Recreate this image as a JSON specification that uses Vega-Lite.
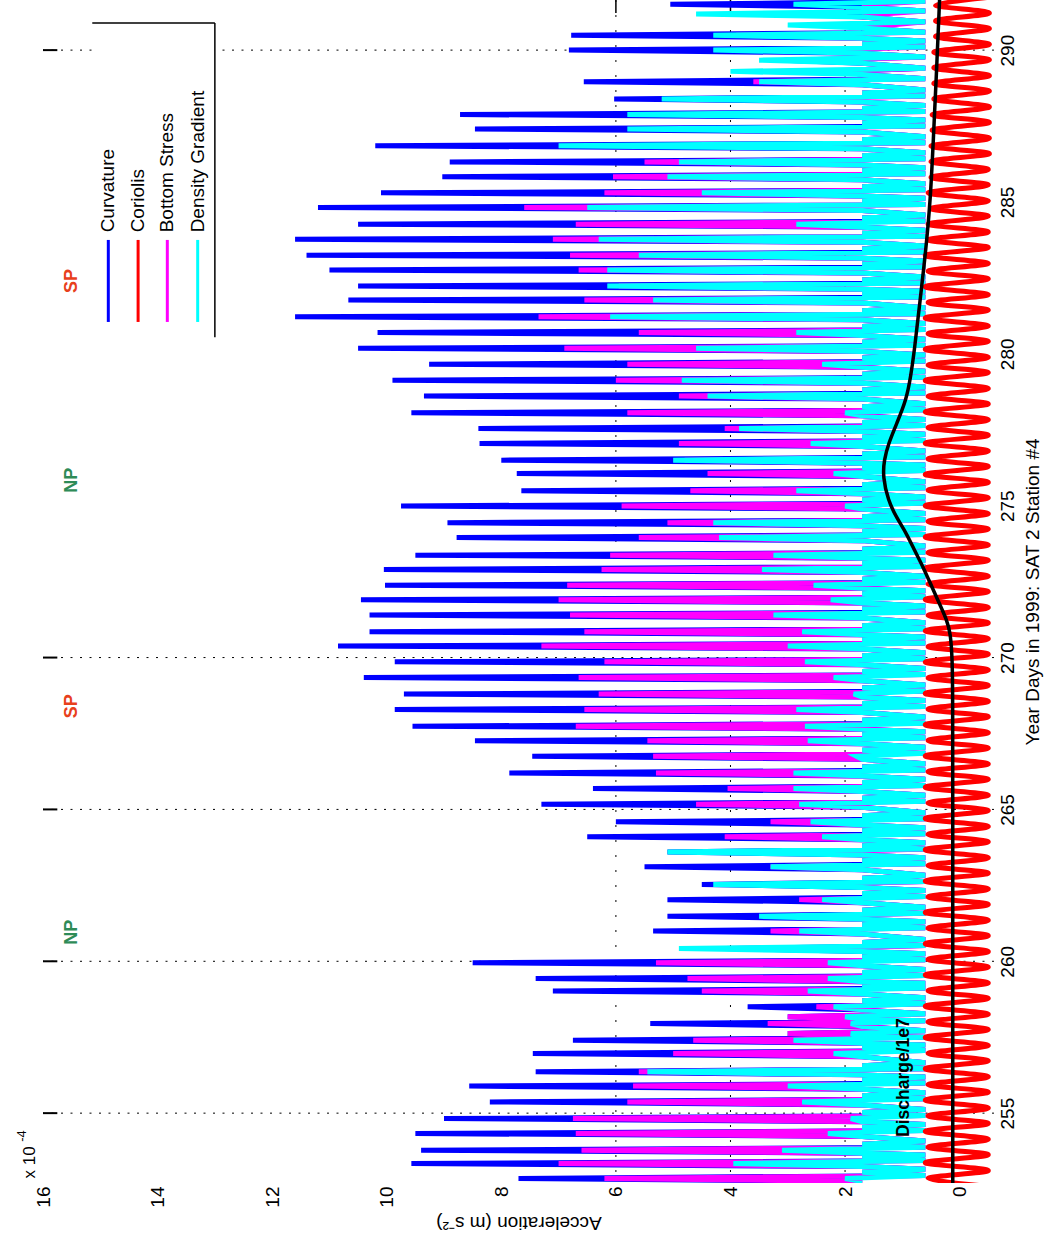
{
"$schema":"https://vega.github.io/schema/vega-lite/v6.json",
"width":951,"height":1183,
"autosize":"none",
"padding":{"left":43,"top":0,"right":51,"bottom":64},
"background":"white",
"config":{"view":{"stroke":null},"font":"Liberation Sans","axis":{"labelFont":"Liberation Sans","titleFont":"Liberation Sans","grid":false,"ticks":false,"domain":false}},
"datasets":{
"hg":[{"d":255},{"d":260},{"d":265},{"d":270},{"d":290}],
"vg":[{"v":2},{"v":4},{"v":6}],
"leg":[{"s":"Curvature","v":14.86},{"s":"Coriolis","v":14.34},{"s":"Bottom Stress","v":13.83},{"s":"Density Gradient","v":13.3}],
"ann":[{"s":"NP","d":260.96},{"s":"SP","d":268.4},{"s":"NP","d":275.84},{"s":"SP","d":282.4}],
"spk":[
{"d":252.75,"C":1.7,"B":1.7,"G":1.7},{"d":252.85,"C":7.7,"B":6.2,"G":2.0},{"d":252.95,"C":0.6,"B":0.6,"G":0.6},{"d":253.05,"C":1.7,"B":1.7,"G":1.7},{"d":253.15,"C":0.6,"B":0.6,"G":0.6},
{"d":253.24,"C":1.7,"B":1.7,"G":1.7},{"d":253.34,"C":9.57,"B":7.0,"G":3.95},{"d":253.44,"C":0.6,"B":0.6,"G":0.6},{"d":253.54,"C":1.7,"B":1.7,"G":1.7},{"d":253.62,"C":0.6,"B":0.6,"G":0.6},
{"d":253.68,"C":1.7,"B":1.7,"G":1.7},{"d":253.78,"C":9.4,"B":6.6,"G":3.1},{"d":253.88,"C":0.6,"B":0.6,"G":0.6},{"d":253.98,"C":1.7,"B":1.7,"G":1.7},{"d":254.08,"C":0.6,"B":0.6,"G":0.6},
{"d":254.23,"C":1.7,"B":1.7,"G":1.7},{"d":254.33,"C":9.5,"B":6.7,"G":2.3},{"d":254.43,"C":0.6,"B":0.6,"G":0.6},{"d":254.53,"C":1.7,"B":1.7,"G":1.7},{"d":254.63,"C":0.6,"B":0.6,"G":0.6},
{"d":254.72,"C":1.7,"B":1.7,"G":1.7},{"d":254.82,"C":9.0,"B":6.75,"G":1.9},{"d":254.92,"C":0.6,"B":0.6,"G":0.6},{"d":255.02,"C":1.7,"B":1.7,"G":1.7},{"d":255.12,"C":0.6,"B":0.6,"G":0.6},
{"d":255.27,"C":1.7,"B":1.7,"G":1.7},{"d":255.37,"C":8.2,"B":5.8,"G":2.75},{"d":255.47,"C":0.6,"B":0.6,"G":0.6},{"d":255.57,"C":1.7,"B":1.7,"G":1.7},{"d":255.67,"C":0.6,"B":0.6,"G":0.6},
{"d":255.79,"C":1.7,"B":1.7,"G":1.7},{"d":255.89,"C":8.56,"B":5.7,"G":3.0},{"d":255.99,"C":0.6,"B":0.6,"G":0.6},{"d":256.09,"C":1.7,"B":1.7,"G":1.7},{"d":256.19,"C":0.6,"B":0.6,"G":0.6},
{"d":256.26,"C":1.7,"B":1.7,"G":1.7},{"d":256.36,"C":7.4,"B":5.6,"G":5.45},{"d":256.46,"C":0.6,"B":0.6,"G":0.6},{"d":256.56,"C":1.7,"B":1.7,"G":1.7},{"d":256.66,"C":0.6,"B":0.6,"G":0.6},
{"d":256.86,"C":1.7,"B":1.7,"G":1.7},{"d":256.96,"C":7.45,"B":5.0,"G":2.2},{"d":257.06,"C":0.6,"B":0.6,"G":0.6},{"d":257.16,"C":1.7,"B":1.7,"G":1.7},{"d":257.24,"C":0.6,"B":0.6,"G":0.6},
{"d":257.30,"C":1.7,"B":1.7,"G":1.7},{"d":257.40,"C":6.75,"B":4.65,"G":2.9},{"d":257.50,"C":0.6,"B":0.6,"G":0.6},
{"d":257.53,"C":1.7,"B":1.7,"G":1.7},{"d":257.62,"C":3.0,"B":3.0,"G":1.9},{"d":257.71,"C":0.6,"B":0.6,"G":0.6},
{"d":257.85,"C":1.7,"B":1.7,"G":1.7},{"d":257.95,"C":5.4,"B":3.35,"G":1.9},{"d":258.04,"C":0.6,"B":0.6,"G":0.6},
{"d":258.08,"C":1.7,"B":1.7,"G":1.7},{"d":258.17,"C":3.0,"B":3.0,"G":2.0},{"d":258.27,"C":0.6,"B":0.6,"G":0.6},
{"d":258.40,"C":1.7,"B":1.7,"G":1.7},{"d":258.50,"C":3.7,"B":2.5,"G":2.2},{"d":258.60,"C":0.6,"B":0.6,"G":0.6},{"d":258.70,"C":1.7,"B":1.7,"G":1.7},{"d":258.80,"C":0.6,"B":0.6,"G":0.6},
{"d":258.92,"C":1.7,"B":1.7,"G":1.7},{"d":259.02,"C":7.1,"B":4.5,"G":2.65},{"d":259.12,"C":0.6,"B":0.6,"G":0.6},{"d":259.21,"C":1.7,"B":1.7,"G":1.7},{"d":259.28,"C":0.6,"B":0.6,"G":0.6},
{"d":259.33,"C":1.7,"B":1.7,"G":1.7},{"d":259.43,"C":7.4,"B":4.75,"G":2.3},{"d":259.53,"C":0.6,"B":0.6,"G":0.6},{"d":259.63,"C":1.7,"B":1.7,"G":1.7},{"d":259.73,"C":0.6,"B":0.6,"G":0.6},
{"d":259.85,"C":1.7,"B":1.7,"G":1.7},{"d":259.95,"C":8.5,"B":5.3,"G":2.3},{"d":260.05,"C":0.6,"B":0.6,"G":0.6},{"d":260.15,"C":1.7,"B":1.7,"G":1.7},{"d":260.25,"C":0.6,"B":0.6,"G":0.6},
{"d":260.32,"C":1.7,"B":1.7,"G":1.7},{"d":260.42,"C":4.1,"B":2.2,"G":4.9},{"d":260.52,"C":0.6,"B":0.6,"G":0.6},{"d":260.62,"C":1.7,"B":1.7,"G":1.7},{"d":260.72,"C":0.6,"B":0.6,"G":0.6},
{"d":260.90,"C":1.7,"B":1.7,"G":1.7},{"d":261.00,"C":5.35,"B":3.3,"G":2.8},{"d":261.10,"C":0.6,"B":0.6,"G":0.6},{"d":261.20,"C":1.7,"B":1.7,"G":1.7},{"d":261.30,"C":0.6,"B":0.6,"G":0.6},
{"d":261.38,"C":1.7,"B":1.7,"G":1.7},{"d":261.48,"C":5.1,"B":2.85,"G":3.5},{"d":261.58,"C":0.6,"B":0.6,"G":0.6},{"d":261.68,"C":1.7,"B":1.7,"G":1.7},{"d":261.78,"C":0.6,"B":0.6,"G":0.6},
{"d":261.93,"C":1.7,"B":1.7,"G":1.7},{"d":262.03,"C":5.1,"B":2.8,"G":2.4},{"d":262.13,"C":0.6,"B":0.6,"G":0.6},{"d":262.23,"C":1.7,"B":1.7,"G":1.7},{"d":262.33,"C":0.6,"B":0.6,"G":0.6},
{"d":262.43,"C":1.7,"B":1.7,"G":1.7},{"d":262.53,"C":4.5,"B":2.5,"G":4.3},{"d":262.63,"C":0.6,"B":0.6,"G":0.6},{"d":262.73,"C":1.7,"B":1.7,"G":1.7},{"d":262.83,"C":0.6,"B":0.6,"G":0.6},
{"d":263.01,"C":1.7,"B":1.7,"G":1.7},{"d":263.11,"C":5.5,"B":3.3,"G":3.3},{"d":263.21,"C":0.6,"B":0.6,"G":0.6},{"d":263.31,"C":1.7,"B":1.7,"G":1.7},{"d":263.41,"C":0.6,"B":0.6,"G":0.6},
{"d":263.50,"C":1.7,"B":1.7,"G":1.7},{"d":263.60,"C":5.1,"B":2.4,"G":5.1},{"d":263.70,"C":0.6,"B":0.6,"G":0.6},{"d":263.80,"C":1.7,"B":1.7,"G":1.7},{"d":263.90,"C":0.6,"B":0.6,"G":0.6},
{"d":264.00,"C":1.7,"B":1.7,"G":1.7},{"d":264.10,"C":6.5,"B":4.1,"G":2.4},{"d":264.20,"C":0.6,"B":0.6,"G":0.6},{"d":264.30,"C":1.7,"B":1.7,"G":1.7},{"d":264.40,"C":0.6,"B":0.6,"G":0.6},
{"d":264.49,"C":1.7,"B":1.7,"G":1.7},{"d":264.59,"C":6.0,"B":3.3,"G":2.6},{"d":264.69,"C":0.6,"B":0.6,"G":0.6},{"d":264.79,"C":1.7,"B":1.7,"G":1.7},{"d":264.89,"C":0.6,"B":0.6,"G":0.6},
{"d":265.07,"C":1.7,"B":1.7,"G":1.7},{"d":265.17,"C":7.3,"B":4.6,"G":2.8},{"d":265.27,"C":0.6,"B":0.6,"G":0.6},{"d":265.37,"C":1.7,"B":1.7,"G":1.7},{"d":265.47,"C":0.6,"B":0.6,"G":0.6},
{"d":265.59,"C":1.7,"B":1.7,"G":1.7},{"d":265.69,"C":6.4,"B":4.05,"G":2.9},{"d":265.79,"C":0.6,"B":0.6,"G":0.6},{"d":265.89,"C":1.7,"B":1.7,"G":1.7},{"d":265.99,"C":0.6,"B":0.6,"G":0.6},
{"d":266.10,"C":1.7,"B":1.7,"G":1.7},{"d":266.20,"C":7.86,"B":5.3,"G":2.9},{"d":266.30,"C":0.6,"B":0.6,"G":0.6},{"d":266.40,"C":1.7,"B":1.7,"G":1.7},{"d":266.50,"C":0.6,"B":0.6,"G":0.6},
{"d":266.65,"C":1.7,"B":1.7,"G":1.7},{"d":266.75,"C":7.46,"B":5.35,"G":1.8},{"d":266.85,"C":0.6,"B":0.6,"G":0.6},{"d":266.95,"C":1.7,"B":1.7,"G":1.7},{"d":267.05,"C":0.6,"B":0.6,"G":0.6},
{"d":267.16,"C":1.7,"B":1.7,"G":1.7},{"d":267.26,"C":8.46,"B":5.45,"G":2.65},{"d":267.36,"C":0.6,"B":0.6,"G":0.6},{"d":267.46,"C":1.7,"B":1.7,"G":1.7},{"d":267.56,"C":0.6,"B":0.6,"G":0.6},
{"d":267.64,"C":1.7,"B":1.7,"G":1.7},{"d":267.74,"C":9.55,"B":6.7,"G":2.7},{"d":267.84,"C":0.6,"B":0.6,"G":0.6},{"d":267.94,"C":1.7,"B":1.7,"G":1.7},{"d":268.04,"C":0.6,"B":0.6,"G":0.6},
{"d":268.19,"C":1.7,"B":1.7,"G":1.7},{"d":268.29,"C":9.86,"B":6.55,"G":2.85},{"d":268.39,"C":0.6,"B":0.6,"G":0.6},{"d":268.49,"C":1.7,"B":1.7,"G":1.7},{"d":268.59,"C":0.6,"B":0.6,"G":0.6},
{"d":268.70,"C":1.7,"B":1.7,"G":1.7},{"d":268.80,"C":9.7,"B":6.3,"G":1.85},{"d":268.90,"C":0.6,"B":0.6,"G":0.6},{"d":269.00,"C":1.7,"B":1.7,"G":1.7},{"d":269.10,"C":0.6,"B":0.6,"G":0.6},
{"d":269.24,"C":1.7,"B":1.7,"G":1.7},{"d":269.34,"C":10.4,"B":6.65,"G":2.2},{"d":269.44,"C":0.6,"B":0.6,"G":0.6},{"d":269.54,"C":1.7,"B":1.7,"G":1.7},{"d":269.64,"C":0.6,"B":0.6,"G":0.6},
{"d":269.76,"C":1.7,"B":1.7,"G":1.7},{"d":269.86,"C":9.86,"B":6.2,"G":2.7},{"d":269.96,"C":0.6,"B":0.6,"G":0.6},{"d":270.06,"C":1.7,"B":1.7,"G":1.7},{"d":270.16,"C":0.6,"B":0.6,"G":0.6},
{"d":270.28,"C":1.7,"B":1.7,"G":1.7},{"d":270.38,"C":10.85,"B":7.3,"G":3.0},{"d":270.48,"C":0.6,"B":0.6,"G":0.6},{"d":270.58,"C":1.7,"B":1.7,"G":1.7},{"d":270.68,"C":0.6,"B":0.6,"G":0.6},
{"d":270.75,"C":1.7,"B":1.7,"G":1.7},{"d":270.85,"C":10.3,"B":6.55,"G":2.75},{"d":270.95,"C":0.6,"B":0.6,"G":0.6},{"d":271.05,"C":1.7,"B":1.7,"G":1.7},{"d":271.15,"C":0.6,"B":0.6,"G":0.6},
{"d":271.30,"C":1.7,"B":1.7,"G":1.7},{"d":271.40,"C":10.3,"B":6.8,"G":3.25},{"d":271.50,"C":0.6,"B":0.6,"G":0.6},{"d":271.60,"C":1.7,"B":1.7,"G":1.7},{"d":271.70,"C":0.6,"B":0.6,"G":0.6},
{"d":271.80,"C":1.7,"B":1.7,"G":1.7},{"d":271.90,"C":10.45,"B":7.0,"G":2.25},{"d":272.00,"C":0.6,"B":0.6,"G":0.6},{"d":272.10,"C":1.7,"B":1.7,"G":1.7},{"d":272.20,"C":0.6,"B":0.6,"G":0.6},
{"d":272.28,"C":1.7,"B":1.7,"G":1.7},{"d":272.38,"C":10.03,"B":6.85,"G":2.55},{"d":272.48,"C":0.6,"B":0.6,"G":0.6},{"d":272.58,"C":1.7,"B":1.7,"G":1.7},{"d":272.68,"C":0.6,"B":0.6,"G":0.6},
{"d":272.80,"C":1.7,"B":1.7,"G":1.7},{"d":272.90,"C":10.05,"B":6.25,"G":3.45},{"d":273.00,"C":0.6,"B":0.6,"G":0.6},{"d":273.10,"C":1.7,"B":1.7,"G":1.7},{"d":273.20,"C":0.6,"B":0.6,"G":0.6},
{"d":273.27,"C":1.7,"B":1.7,"G":1.7},{"d":273.37,"C":9.5,"B":6.1,"G":3.25},{"d":273.47,"C":0.6,"B":0.6,"G":0.6},{"d":273.57,"C":1.7,"B":1.7,"G":1.7},{"d":273.67,"C":0.6,"B":0.6,"G":0.6},
{"d":273.85,"C":1.7,"B":1.7,"G":1.7},{"d":273.95,"C":8.78,"B":5.6,"G":4.2},{"d":274.05,"C":0.6,"B":0.6,"G":0.6},{"d":274.15,"C":1.7,"B":1.7,"G":1.7},{"d":274.25,"C":0.6,"B":0.6,"G":0.6},
{"d":274.34,"C":1.7,"B":1.7,"G":1.7},{"d":274.44,"C":8.94,"B":5.1,"G":4.3},{"d":274.54,"C":0.6,"B":0.6,"G":0.6},{"d":274.64,"C":1.7,"B":1.7,"G":1.7},{"d":274.74,"C":0.6,"B":0.6,"G":0.6},
{"d":274.89,"C":1.7,"B":1.7,"G":1.7},{"d":274.99,"C":9.75,"B":5.9,"G":2.0},{"d":275.09,"C":0.6,"B":0.6,"G":0.6},{"d":275.19,"C":1.7,"B":1.7,"G":1.7},{"d":275.29,"C":0.6,"B":0.6,"G":0.6},
{"d":275.39,"C":1.7,"B":1.7,"G":1.7},{"d":275.49,"C":7.65,"B":4.7,"G":2.85},{"d":275.59,"C":0.6,"B":0.6,"G":0.6},{"d":275.69,"C":1.7,"B":1.7,"G":1.7},{"d":275.79,"C":0.6,"B":0.6,"G":0.6},
{"d":275.96,"C":1.7,"B":1.7,"G":1.7},{"d":276.06,"C":7.73,"B":4.4,"G":2.2},{"d":276.16,"C":0.6,"B":0.6,"G":0.6},{"d":276.26,"C":1.7,"B":1.7,"G":1.7},{"d":276.34,"C":0.6,"B":0.6,"G":0.6},
{"d":276.40,"C":1.7,"B":1.7,"G":1.7},{"d":276.50,"C":8.0,"B":4.8,"G":5.0},{"d":276.60,"C":0.6,"B":0.6,"G":0.6},{"d":276.70,"C":1.7,"B":1.7,"G":1.7},{"d":276.80,"C":0.6,"B":0.6,"G":0.6},
{"d":276.95,"C":1.7,"B":1.7,"G":1.7},{"d":277.05,"C":8.38,"B":4.9,"G":2.6},{"d":277.15,"C":0.6,"B":0.6,"G":0.6},{"d":277.25,"C":1.7,"B":1.7,"G":1.7},{"d":277.35,"C":0.6,"B":0.6,"G":0.6},
{"d":277.44,"C":1.7,"B":1.7,"G":1.7},{"d":277.54,"C":8.4,"B":4.1,"G":3.85},{"d":277.64,"C":0.6,"B":0.6,"G":0.6},{"d":277.74,"C":1.7,"B":1.7,"G":1.7},{"d":277.84,"C":0.6,"B":0.6,"G":0.6},
{"d":277.96,"C":1.7,"B":1.7,"G":1.7},{"d":278.06,"C":9.57,"B":5.8,"G":2.0},{"d":278.16,"C":0.6,"B":0.6,"G":0.6},{"d":278.26,"C":1.7,"B":1.7,"G":1.7},{"d":278.36,"C":0.6,"B":0.6,"G":0.6},
{"d":278.51,"C":1.7,"B":1.7,"G":1.7},{"d":278.61,"C":9.35,"B":4.9,"G":4.4},{"d":278.71,"C":0.6,"B":0.6,"G":0.6},{"d":278.81,"C":1.7,"B":1.7,"G":1.7},{"d":278.91,"C":0.6,"B":0.6,"G":0.6},
{"d":279.03,"C":1.7,"B":1.7,"G":1.7},{"d":279.13,"C":9.9,"B":6.0,"G":4.85},{"d":279.23,"C":0.6,"B":0.6,"G":0.6},{"d":279.33,"C":1.7,"B":1.7,"G":1.7},{"d":279.43,"C":0.6,"B":0.6,"G":0.6},
{"d":279.56,"C":1.7,"B":1.7,"G":1.7},{"d":279.66,"C":9.26,"B":5.8,"G":2.4},{"d":279.76,"C":0.6,"B":0.6,"G":0.6},{"d":279.86,"C":1.7,"B":1.7,"G":1.7},{"d":279.96,"C":0.6,"B":0.6,"G":0.6},
{"d":280.08,"C":1.7,"B":1.7,"G":1.7},{"d":280.18,"C":10.5,"B":6.9,"G":4.6},{"d":280.28,"C":0.6,"B":0.6,"G":0.6},{"d":280.38,"C":1.7,"B":1.7,"G":1.7},{"d":280.48,"C":0.6,"B":0.6,"G":0.6},
{"d":280.60,"C":1.7,"B":1.7,"G":1.7},{"d":280.70,"C":10.16,"B":5.6,"G":2.85},{"d":280.80,"C":0.6,"B":0.6,"G":0.6},{"d":280.90,"C":1.7,"B":1.7,"G":1.7},{"d":281.00,"C":0.6,"B":0.6,"G":0.6},
{"d":281.12,"C":1.7,"B":1.7,"G":1.7},{"d":281.22,"C":11.6,"B":7.35,"G":6.1},{"d":281.32,"C":0.6,"B":0.6,"G":0.6},{"d":281.42,"C":1.7,"B":1.7,"G":1.7},{"d":281.52,"C":0.6,"B":0.6,"G":0.6},
{"d":281.67,"C":1.7,"B":1.7,"G":1.7},{"d":281.77,"C":10.67,"B":6.55,"G":5.35},{"d":281.87,"C":0.6,"B":0.6,"G":0.6},{"d":281.97,"C":1.7,"B":1.7,"G":1.7},{"d":282.06,"C":0.6,"B":0.6,"G":0.6},
{"d":282.13,"C":1.7,"B":1.7,"G":1.7},{"d":282.23,"C":10.5,"B":5.95,"G":6.15},{"d":282.33,"C":0.6,"B":0.6,"G":0.6},{"d":282.43,"C":1.7,"B":1.7,"G":1.7},{"d":282.53,"C":0.6,"B":0.6,"G":0.6},
{"d":282.66,"C":1.7,"B":1.7,"G":1.7},{"d":282.76,"C":11.0,"B":6.65,"G":6.15},{"d":282.86,"C":0.6,"B":0.6,"G":0.6},{"d":282.96,"C":1.7,"B":1.7,"G":1.7},{"d":283.06,"C":0.6,"B":0.6,"G":0.6},
{"d":283.15,"C":1.7,"B":1.7,"G":1.7},{"d":283.25,"C":11.4,"B":6.8,"G":5.6},{"d":283.35,"C":0.6,"B":0.6,"G":0.6},{"d":283.45,"C":1.7,"B":1.7,"G":1.7},{"d":283.55,"C":0.6,"B":0.6,"G":0.6},
{"d":283.67,"C":1.7,"B":1.7,"G":1.7},{"d":283.77,"C":11.6,"B":7.1,"G":6.3},{"d":283.87,"C":0.6,"B":0.6,"G":0.6},{"d":283.97,"C":1.7,"B":1.7,"G":1.7},{"d":284.07,"C":0.6,"B":0.6,"G":0.6},
{"d":284.17,"C":1.7,"B":1.7,"G":1.7},{"d":284.27,"C":10.5,"B":6.7,"G":2.85},{"d":284.37,"C":0.6,"B":0.6,"G":0.6},{"d":284.47,"C":1.7,"B":1.7,"G":1.7},{"d":284.57,"C":0.6,"B":0.6,"G":0.6},
{"d":284.72,"C":1.7,"B":1.7,"G":1.7},{"d":284.82,"C":11.2,"B":7.6,"G":6.5},{"d":284.92,"C":0.6,"B":0.6,"G":0.6},{"d":285.02,"C":1.7,"B":1.7,"G":1.7},{"d":285.12,"C":0.6,"B":0.6,"G":0.6},
{"d":285.20,"C":1.7,"B":1.7,"G":1.7},{"d":285.30,"C":10.1,"B":6.2,"G":4.5},{"d":285.40,"C":0.6,"B":0.6,"G":0.6},{"d":285.50,"C":1.7,"B":1.7,"G":1.7},{"d":285.60,"C":0.6,"B":0.6,"G":0.6},
{"d":285.73,"C":1.7,"B":1.7,"G":1.7},{"d":285.83,"C":9.03,"B":6.05,"G":5.1},{"d":285.93,"C":0.6,"B":0.6,"G":0.6},{"d":286.03,"C":1.7,"B":1.7,"G":1.7},{"d":286.13,"C":0.6,"B":0.6,"G":0.6},
{"d":286.22,"C":1.7,"B":1.7,"G":1.7},{"d":286.32,"C":8.9,"B":5.5,"G":4.9},{"d":286.42,"C":0.6,"B":0.6,"G":0.6},{"d":286.52,"C":1.7,"B":1.7,"G":1.7},{"d":286.62,"C":0.6,"B":0.6,"G":0.6},
{"d":286.75,"C":1.7,"B":1.7,"G":1.7},{"d":286.85,"C":10.2,"B":4.5,"G":7.0},{"d":286.95,"C":0.6,"B":0.6,"G":0.6},{"d":287.05,"C":1.7,"B":1.7,"G":1.7},{"d":287.15,"C":0.6,"B":0.6,"G":0.6},
{"d":287.30,"C":1.7,"B":1.7,"G":1.7},{"d":287.40,"C":8.46,"B":4.2,"G":5.8},{"d":287.50,"C":0.6,"B":0.6,"G":0.6},{"d":287.60,"C":1.7,"B":1.7,"G":1.7},{"d":287.70,"C":0.6,"B":0.6,"G":0.6},
{"d":287.78,"C":1.7,"B":1.7,"G":1.7},{"d":287.88,"C":8.72,"B":5.0,"G":5.8},{"d":287.98,"C":0.6,"B":0.6,"G":0.6},{"d":288.08,"C":1.7,"B":1.7,"G":1.7},{"d":288.18,"C":0.6,"B":0.6,"G":0.6},
{"d":288.29,"C":1.7,"B":1.7,"G":1.7},{"d":288.39,"C":6.03,"B":3.0,"G":5.2},{"d":288.49,"C":0.6,"B":0.6,"G":0.6},{"d":288.59,"C":1.7,"B":1.7,"G":1.7},{"d":288.69,"C":0.6,"B":0.6,"G":0.6},
{"d":288.86,"C":1.7,"B":1.7,"G":1.7},{"d":288.96,"C":6.56,"B":3.6,"G":3.5},{"d":289.06,"C":0.6,"B":0.6,"G":0.6},
{"d":289.20,"C":1.7,"B":1.7,"G":1.7},{"d":289.30,"C":2.0,"B":2.0,"G":4.0},{"d":289.40,"C":0.6,"B":0.6,"G":0.6},
{"d":289.57,"C":1.7,"B":1.7,"G":1.7},{"d":289.67,"C":3.06,"B":2.2,"G":3.5},{"d":289.77,"C":0.6,"B":0.6,"G":0.6},
{"d":289.90,"C":1.7,"B":1.7,"G":1.7},{"d":290.00,"C":6.82,"B":2.2,"G":4.3},{"d":290.10,"C":0.6,"B":0.6,"G":0.6},{"d":290.20,"C":1.7,"B":1.7,"G":1.7},{"d":290.30,"C":0.6,"B":0.6,"G":0.6},
{"d":290.39,"C":1.7,"B":1.7,"G":1.7},{"d":290.49,"C":6.78,"B":3.9,"G":4.3},{"d":290.59,"C":0.6,"B":0.6,"G":0.6},
{"d":290.73,"C":1.7,"B":1.7,"G":1.7},{"d":290.83,"C":1.8,"B":1.2,"G":3.0},{"d":290.93,"C":0.6,"B":0.6,"G":0.6},
{"d":291.09,"C":1.7,"B":1.7,"G":1.7},{"d":291.19,"C":2.8,"B":1.35,"G":4.6},{"d":291.29,"C":0.6,"B":0.6,"G":0.6},
{"d":291.41,"C":1.7,"B":1.7,"G":1.7},{"d":291.51,"C":5.05,"B":1.5,"G":2.9},{"d":291.61,"C":0.6,"B":0.6,"G":0.6}
],
"cor":[
{"d":252.59,"v":-0.5},{"d":252.85,"v":0.55},{"d":253.11,"v":-0.5},{"d":253.37,"v":0.6},{"d":253.63,"v":-0.5},{"d":253.88,"v":0.55},{"d":254.14,"v":-0.5},{"d":254.40,"v":0.6},{"d":254.66,"v":-0.5},{"d":254.91,"v":0.55},
{"d":255.17,"v":-0.5},{"d":255.43,"v":0.6},{"d":255.69,"v":-0.5},{"d":255.94,"v":0.55},{"d":256.20,"v":-0.5},{"d":256.46,"v":0.6},{"d":256.72,"v":-0.5},{"d":256.97,"v":0.55},{"d":257.23,"v":-0.5},{"d":257.49,"v":0.6},
{"d":257.75,"v":-0.5},{"d":258.00,"v":0.55},{"d":258.26,"v":-0.5},{"d":258.52,"v":0.6},{"d":258.78,"v":-0.5},{"d":259.03,"v":0.55},{"d":259.29,"v":-0.5},{"d":259.55,"v":0.6},{"d":259.81,"v":-0.5},{"d":260.06,"v":0.55},
{"d":260.32,"v":-0.5},{"d":260.58,"v":0.6},{"d":260.84,"v":-0.5},{"d":261.09,"v":0.55},{"d":261.35,"v":-0.5},{"d":261.61,"v":0.6},{"d":261.87,"v":-0.5},{"d":262.12,"v":0.55},{"d":262.38,"v":-0.5},{"d":262.64,"v":0.6},
{"d":262.90,"v":-0.5},{"d":263.15,"v":0.55},{"d":263.41,"v":-0.5},{"d":263.67,"v":0.6},{"d":263.93,"v":-0.5},{"d":264.18,"v":0.55},{"d":264.44,"v":-0.5},{"d":264.70,"v":0.6},{"d":264.96,"v":-0.5},{"d":265.21,"v":0.55},
{"d":265.47,"v":-0.5},{"d":265.73,"v":0.6},{"d":265.99,"v":-0.5},{"d":266.24,"v":0.55},{"d":266.50,"v":-0.5},{"d":266.76,"v":0.6},{"d":267.02,"v":-0.5},{"d":267.27,"v":0.55},{"d":267.53,"v":-0.5},{"d":267.79,"v":0.6},
{"d":268.05,"v":-0.5},{"d":268.30,"v":0.55},{"d":268.56,"v":-0.5},{"d":268.82,"v":0.6},{"d":269.08,"v":-0.5},{"d":269.33,"v":0.55},{"d":269.59,"v":-0.5},{"d":269.85,"v":0.6},{"d":270.11,"v":-0.5},{"d":270.36,"v":0.55},
{"d":270.62,"v":-0.5},{"d":270.88,"v":0.6},{"d":271.14,"v":-0.5},{"d":271.39,"v":0.55},{"d":271.65,"v":-0.5},{"d":271.91,"v":0.6},{"d":272.17,"v":-0.5},{"d":272.42,"v":0.55},{"d":272.68,"v":-0.5},{"d":272.94,"v":0.6},
{"d":273.20,"v":-0.5},{"d":273.45,"v":0.55},{"d":273.71,"v":-0.5},{"d":273.97,"v":0.6},{"d":274.23,"v":-0.5},{"d":274.48,"v":0.55},{"d":274.74,"v":-0.5},{"d":275.00,"v":0.6},{"d":275.26,"v":-0.5},{"d":275.51,"v":0.55},
{"d":275.77,"v":-0.5},{"d":276.03,"v":0.6},{"d":276.29,"v":-0.5},{"d":276.54,"v":0.55},{"d":276.80,"v":-0.5},{"d":277.06,"v":0.6},{"d":277.32,"v":-0.5},{"d":277.57,"v":0.55},{"d":277.83,"v":-0.5},{"d":278.09,"v":0.6},
{"d":278.35,"v":-0.5},{"d":278.60,"v":0.55},{"d":278.86,"v":-0.5},{"d":279.12,"v":0.6},{"d":279.38,"v":-0.5},{"d":279.63,"v":0.55},{"d":279.89,"v":-0.5},{"d":280.15,"v":0.6},{"d":280.41,"v":-0.5},{"d":280.66,"v":0.55},
{"d":280.92,"v":-0.5},{"d":281.18,"v":0.6},{"d":281.44,"v":-0.5},{"d":281.69,"v":0.55},{"d":281.95,"v":-0.5},{"d":282.21,"v":0.6},{"d":282.47,"v":-0.5},{"d":282.72,"v":0.55},{"d":282.98,"v":-0.5},{"d":283.24,"v":0.6},
{"d":283.50,"v":-0.5},{"d":283.75,"v":0.55},{"d":284.01,"v":-0.5},{"d":284.27,"v":0.55},{"d":284.53,"v":-0.5},{"d":284.78,"v":0.5},{"d":285.04,"v":-0.5},{"d":285.30,"v":0.55},{"d":285.56,"v":-0.5},{"d":285.81,"v":0.5},
{"d":286.07,"v":-0.5},{"d":286.33,"v":0.5},{"d":286.59,"v":-0.52},{"d":286.84,"v":0.5},{"d":287.10,"v":-0.52},{"d":287.36,"v":0.48},{"d":287.62,"v":-0.52},{"d":287.87,"v":0.48},{"d":288.13,"v":-0.52},{"d":288.39,"v":0.45},
{"d":288.65,"v":-0.52},{"d":288.90,"v":0.45},{"d":289.16,"v":-0.52},{"d":289.42,"v":0.45},{"d":289.68,"v":-0.52},{"d":289.93,"v":0.45},{"d":290.19,"v":-0.52},{"d":290.45,"v":0.42},{"d":290.71,"v":-0.52},{"d":290.96,"v":0.42},
{"d":291.22,"v":-0.52},{"d":291.48,"v":0.42},{"d":291.74,"v":-0.52}
],
"dis":[
{"d":252.7,"v":0.12},{"d":256,"v":0.12},{"d":260,"v":0.12},{"d":265,"v":0.12},{"d":269,"v":0.12},{"d":270,"v":0.13},{"d":270.8,"v":0.16},{"d":271.23,"v":0.22},{"d":271.89,"v":0.38},{"d":272.4,"v":0.5},{"d":272.99,"v":0.64},{"d":273.5,"v":0.78},{"d":274.1,"v":0.93},{"d":274.6,"v":1.1},{"d":275.18,"v":1.25},{"d":275.95,"v":1.34},{"d":276.5,"v":1.32},{"d":277.06,"v":1.24},{"d":277.7,"v":1.1},{"d":278.48,"v":0.93},{"d":279.3,"v":0.85},{"d":280.1,"v":0.79},{"d":281.77,"v":0.69},{"d":283.4,"v":0.59},{"d":285.06,"v":0.51},{"d":287,"v":0.46},{"d":289,"v":0.41},{"d":291.65,"v":0.35}
]
},
"layer":[
{"data":{"name":"hg"},"mark":{"type":"rule","color":"black","strokeWidth":1,"strokeDash":[2,7.5]},
 "encoding":{"y":{"field":"d","type":"quantitative","scale":{"domain":[252.7,291.65],"nice":false,"zero":false}}}},
{"data":{"name":"vg"},"mark":{"type":"rule","color":"black","strokeWidth":1,"strokeDash":[2,13]},
 "encoding":{"x":{"field":"v","type":"quantitative","scale":{"domain":[-0.6,16],"reverse":true,"nice":false,"zero":false}}}},
{"data":{"name":"hg"},"mark":{"type":"rule","color":"black","strokeWidth":2},
 "encoding":{"y":{"field":"d","type":"quantitative","scale":{"domain":[252.7,291.65],"nice":false,"zero":false}},
  "x":{"datum":16,"type":"quantitative","scale":{"domain":[-0.6,16],"reverse":true,"nice":false,"zero":false}},"x2":{"datum":15.75}}},
{"data":{"name":"vg"},"mark":{"type":"rule","color":"black","strokeWidth":1.5},
 "encoding":{"x":{"field":"v","type":"quantitative","scale":{"domain":[-0.6,16],"reverse":true,"nice":false,"zero":false}},
  "y":{"datum":291.65,"type":"quantitative","scale":{"domain":[252.7,291.65],"nice":false,"zero":false}},"y2":{"datum":291.22}}},
{"data":{"name":"spk"},"mark":{"type":"line","color":"#0000ff","strokeWidth":5,"clip":true},
 "encoding":{
  "x":{"field":"C","type":"quantitative","scale":{"domain":[-0.6,16],"reverse":true,"nice":false,"zero":false},
   "axis":{"orient":"bottom","values":[0,2,4,6,8,10,12,14,16],"format":"d","labelAngle":-90,"labelAlign":"right","labelBaseline":"middle","labelFontSize":19,"labelColor":"black","labelPadding":3,"labelFlush":false,"labelOverlap":false,"ticks":false,"domain":false,"grid":false,
    "title":"Acceleration (m s⁻²)","titleAngle":180,"titleBaseline":"bottom","titleFontSize":19,"titleFontWeight":"normal","titleColor":"black","titlePadding":5}},
  "y":{"field":"d","type":"quantitative","scale":{"domain":[252.7,291.65],"nice":false,"zero":false},
   "axis":{"orient":"right","values":[255,260,265,270,275,280,285,290],"format":"d","labelAngle":-90,"labelAlign":"center","labelBaseline":"top","labelFontSize":19,"labelColor":"black","labelPadding":4,"labelFlush":false,"labelOverlap":false,"ticks":false,"domain":false,"grid":false,
    "title":"Year Days in 1999: SAT 2 Station #4","titleAngle":270,"titleBaseline":"top","titleFontSize":19,"titleFontWeight":"normal","titleColor":"black","titlePadding":6}},
  "order":{"field":"d","type":"quantitative"}}},
{"data":{"name":"spk"},"mark":{"type":"line","color":"#ff00ff","strokeWidth":5,"clip":true},
 "encoding":{"x":{"field":"B","type":"quantitative","scale":{"domain":[-0.6,16],"reverse":true,"nice":false,"zero":false}},
  "y":{"field":"d","type":"quantitative","scale":{"domain":[252.7,291.65],"nice":false,"zero":false}},
  "order":{"field":"d","type":"quantitative"}}},
{"data":{"name":"spk"},"mark":{"type":"line","color":"#00ffff","strokeWidth":5,"clip":true},
 "encoding":{"x":{"field":"G","type":"quantitative","scale":{"domain":[-0.6,16],"reverse":true,"nice":false,"zero":false}},
  "y":{"field":"d","type":"quantitative","scale":{"domain":[252.7,291.65],"nice":false,"zero":false}},
  "order":{"field":"d","type":"quantitative"}}},
{"data":{"name":"cor"},"mark":{"type":"line","color":"#ff0000","strokeWidth":5,"interpolate":"cardinal","clip":true},
 "encoding":{"x":{"field":"v","type":"quantitative","scale":{"domain":[-0.6,16],"reverse":true,"nice":false,"zero":false}},
  "y":{"field":"d","type":"quantitative","scale":{"domain":[252.7,291.65],"nice":false,"zero":false}},
  "order":{"field":"d","type":"quantitative"}}},
{"data":{"name":"dis"},"mark":{"type":"line","color":"black","strokeWidth":3.5,"interpolate":"basis","clip":true},
 "encoding":{"x":{"field":"v","type":"quantitative","scale":{"domain":[-0.6,16],"reverse":true,"nice":false,"zero":false}},
  "y":{"field":"d","type":"quantitative","scale":{"domain":[252.7,291.65],"nice":false,"zero":false}},
  "order":{"field":"d","type":"quantitative"}}},
{"data":{"values":[{"box":"legend"}]},"mark":{"type":"rect","fill":"white"},
 "encoding":{"x":{"datum":15.14,"type":"quantitative","scale":{"domain":[-0.6,16],"reverse":true,"nice":false,"zero":false}},"x2":{"datum":13.0},
  "y":{"datum":290.89,"type":"quantitative","scale":{"domain":[252.7,291.65],"nice":false,"zero":false}},"y2":{"datum":280.55}}},
{"data":{"values":[{"box":"legend"}]},"mark":{"type":"rule","color":"black","strokeWidth":1.5},
 "encoding":{"x":{"datum":15.14,"type":"quantitative","scale":{"domain":[-0.6,16],"reverse":true,"nice":false,"zero":false}},"x2":{"datum":13.0},
  "y":{"datum":290.89,"type":"quantitative","scale":{"domain":[252.7,291.65],"nice":false,"zero":false}}}},
{"data":{"values":[{"box":"legend"}]},"mark":{"type":"rule","color":"black","strokeWidth":1.5},
 "encoding":{"x":{"datum":13.0,"type":"quantitative","scale":{"domain":[-0.6,16],"reverse":true,"nice":false,"zero":false}},
  "y":{"datum":290.89,"type":"quantitative","scale":{"domain":[252.7,291.65],"nice":false,"zero":false}},"y2":{"datum":280.55}}},
{"data":{"name":"leg"},"mark":{"type":"rule","strokeWidth":3},
 "encoding":{"x":{"field":"v","type":"quantitative","scale":{"domain":[-0.6,16],"reverse":true,"nice":false,"zero":false}},
  "y":{"datum":283.75,"type":"quantitative","scale":{"domain":[252.7,291.65],"nice":false,"zero":false}},"y2":{"datum":281.05},
  "color":{"field":"s","type":"nominal","scale":{"domain":["Curvature","Coriolis","Bottom Stress","Density Gradient","NP","SP"],"range":["#0000ff","#ff0000","#ff00ff","#00ffff","#2e8b57","#e8401c"]},"legend":null}}},
{"data":{"name":"leg"},"mark":{"type":"text","angle":-90,"align":"left","baseline":"middle","fontSize":19,"color":"black","font":"Liberation Sans"},
 "encoding":{"x":{"field":"v","type":"quantitative","scale":{"domain":[-0.6,16],"reverse":true,"nice":false,"zero":false}},
  "y":{"datum":284.0,"type":"quantitative","scale":{"domain":[252.7,291.65],"nice":false,"zero":false}},
  "text":{"field":"s"}}},
{"data":{"name":"ann"},"mark":{"type":"text","angle":-90,"align":"center","baseline":"middle","fontSize":18,"fontWeight":"bold","font":"Liberation Sans"},
 "encoding":{"x":{"datum":15.5,"type":"quantitative","scale":{"domain":[-0.6,16],"reverse":true,"nice":false,"zero":false}},
  "y":{"field":"d","type":"quantitative","scale":{"domain":[252.7,291.65],"nice":false,"zero":false}},
  "text":{"field":"s"},
  "color":{"field":"s","type":"nominal","scale":{"domain":["Curvature","Coriolis","Bottom Stress","Density Gradient","NP","SP"],"range":["#0000ff","#ff0000","#ff00ff","#00ffff","#2e8b57","#e8401c"]},"legend":null}}},
{"data":{"values":[{"t":"Discharge/1e7"}]},"mark":{"type":"text","angle":-90,"align":"center","baseline":"middle","fontSize":17.5,"fontWeight":"bold","color":"black","font":"Liberation Sans"},
 "encoding":{"x":{"datum":0.97,"type":"quantitative","scale":{"domain":[-0.6,16],"reverse":true,"nice":false,"zero":false}},
  "y":{"datum":256.17,"type":"quantitative","scale":{"domain":[252.7,291.65],"nice":false,"zero":false}},
  "text":{"field":"t"}}},
{"data":{"values":[{"t":"x 10"}]},"mark":{"type":"text","angle":-90,"align":"center","baseline":"alphabetic","fontSize":17,"color":"black","font":"Liberation Sans"},
 "encoding":{"x":{"datum":16.14,"type":"quantitative","scale":{"domain":[-0.6,16],"reverse":true,"nice":false,"zero":false}},
  "y":{"datum":253.38,"type":"quantitative","scale":{"domain":[252.7,291.65],"nice":false,"zero":false}},
  "text":{"field":"t"}}},
{"data":{"values":[{"t":"-4"}]},"mark":{"type":"text","angle":-90,"align":"center","baseline":"alphabetic","fontSize":13,"color":"black","font":"Liberation Sans"},
 "encoding":{"x":{"datum":16.3,"type":"quantitative","scale":{"domain":[-0.6,16],"reverse":true,"nice":false,"zero":false}},
  "y":{"datum":254.25,"type":"quantitative","scale":{"domain":[252.7,291.65],"nice":false,"zero":false}},
  "text":{"field":"t"}}}
]
}
